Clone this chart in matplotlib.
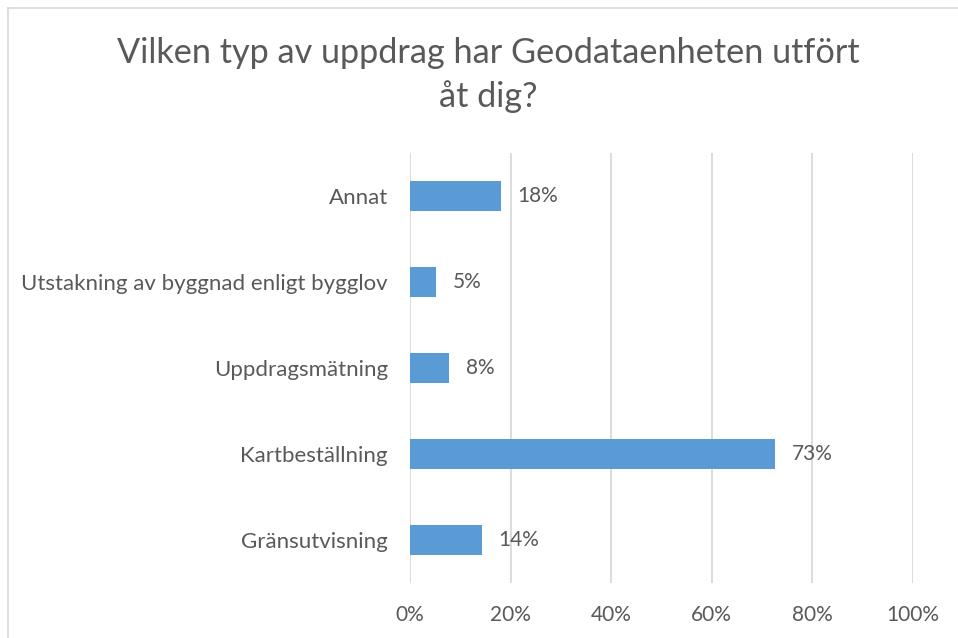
import matplotlib.pyplot as plt
from matplotlib.lines import Line2D

# data (bottom to top)
categories = ['Gränsutvisning', 'Kartbeställning', 'Uppdragsmätning',
              'Utstakning av byggnad enligt bygglov', 'Annat']
values = [14.3, 72.6, 7.8, 5.2, 18.1]
xticks = [0, 20, 40, 60, 80, 100]
title = 'Vilken typ av uppdrag har Geodataenheten utfört\nåt dig?'

text_col = '#595959'
bar_col = '#5B9BD5'
grid_col = '#D9D9D9'

plt.rcParams['font.family'] = ['Lato', 'DejaVu Sans']

fig = plt.figure(figsize=(9.58, 6.38), dpi=100)
ax = fig.add_axes([410 / 958, 1 - 583 / 638, 503 / 958, 430 / 638])

y = range(len(categories))
ax.barh(y, values, height=0.36, color=bar_col, zorder=3)
for i, v in enumerate(values):
    ax.text(v + 3.3, i, '%d%%' % round(v), va='center', ha='left',
            fontsize=15, color=text_col)

ax.set_xlim(0, 100)
ax.set_ylim(-0.5, 4.5)
ax.set_xticks(xticks)
ax.set_xticklabels(['%d%%' % t for t in xticks], fontsize=15, color=text_col)
ax.set_yticks(list(y))
ax.set_yticklabels(categories, fontsize=16, color=text_col)
ax.tick_params(axis='both', length=0)
ax.tick_params(axis='x', pad=16)
ax.tick_params(axis='y', pad=16)
ax.grid(axis='x', color=grid_col, linewidth=1.3, zorder=0)
for s in ax.spines.values():
    s.set_visible(False)

fig.text(488 / 958, 1 - 75 / 638, title, ha='center', va='center',
         fontsize=24.7, color=text_col, linespacing=1.42)

# chart area border (left and top visible)
fig.add_artist(Line2D([8 / 958, 8 / 958], [0, 1 - 8 / 638], color=grid_col,
                      linewidth=1.2, transform=fig.transFigure))
fig.add_artist(Line2D([8 / 958, 1], [1 - 8 / 638, 1 - 8 / 638], color=grid_col,
                      linewidth=1.2, transform=fig.transFigure))

fig.savefig('out.png', dpi=100)
